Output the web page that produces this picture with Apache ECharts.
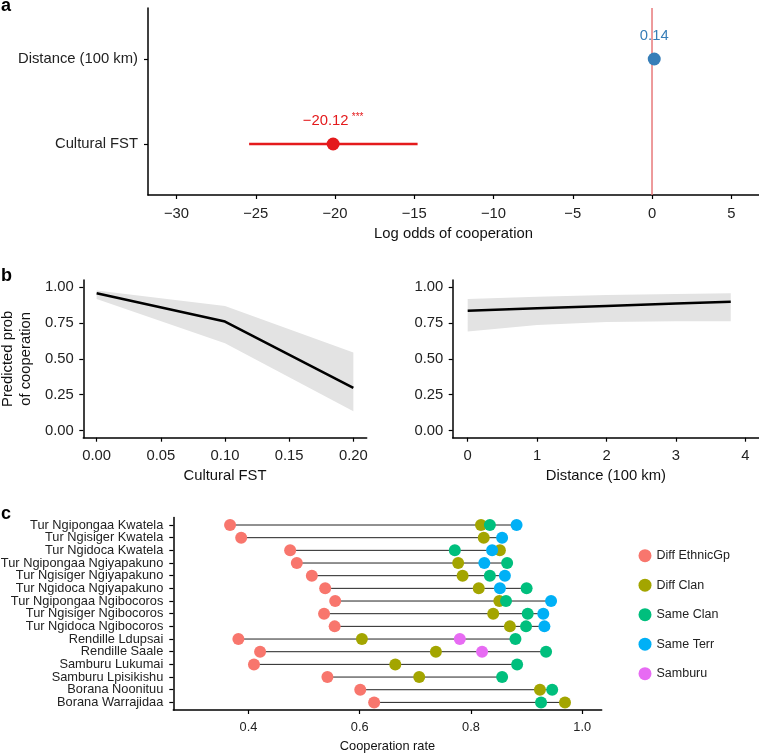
<!DOCTYPE html>
<html>
<head>
<meta charset="utf-8">
<script src="https://cdn.jsdelivr.net/npm/echarts@6/dist/echarts.min.js"></script>
<style>
html,body{margin:0;padding:0;background:#fff;}
#chart{width:759px;height:754px;}
</style>
</head>
<body>
<div id="chart"></div>
<script>
// ---------- Panel a: coefficients ----------
const coefTerms = ['Cultural FST', 'Distance (100 km)'];
const coefEst = [-20.12, 0.14];
const coefLow = [-25.42, null];
const coefHigh = [-14.79, null];
const coefText = ['\u221220.12', '0.14'];
const coefStars = ['***', ''];
const coefColors = ['#E41A1C', '#377EB8'];
const logOddsTicks = [-30, -25, -20, -15, -10, -5, 0, 5];

// ---------- Panel b: predicted probabilities ----------
const fstX = [0, 0.1, 0.2];
const fstFit = [0.958, 0.76, 0.298];
const fstLo = [0.918, 0.608, 0.135];
const fstHi = [0.976, 0.869, 0.545];
const fstTicks = [0, 0.05, 0.1, 0.15, 0.2];

const distX = [0, 1, 2, 3, 3.79];
const distFit = [0.836, 0.853, 0.869, 0.886, 0.899];
const distLo = [0.69, 0.736, 0.757, 0.762, 0.762];
const distHi = [0.918, 0.934, 0.945, 0.953, 0.958];
const distTicks = [0, 1, 2, 3, 4];
const probTicks = [0, 0.25, 0.5, 0.75, 1];

// ---------- Panel c: cooperation rates ----------
const groups = ['Tur Ngipongaa Kwatela', 'Tur Ngisiger Kwatela', 'Tur Ngidoca Kwatela',
  'Tur Ngipongaa Ngiyapakuno', 'Tur Ngisiger Ngiyapakuno', 'Tur Ngidoca Ngiyapakuno',
  'Tur Ngipongaa Ngibocoros', 'Tur Ngisiger Ngibocoros', 'Tur Ngidoca Ngibocoros',
  'Rendille Ldupsai', 'Rendille Saale', 'Samburu Lukumai', 'Samburu Lpisikishu',
  'Borana Noonituu', 'Borana Warrajidaa'];
const diffEthnicGp = [0.367, 0.387, 0.475, 0.487, 0.514, 0.538, 0.556, 0.536, 0.555, 0.382, 0.421, 0.410, 0.542, 0.601, 0.626];
const diffClan = [0.818, 0.823, 0.852, 0.777, 0.785, 0.814, 0.851, 0.840, 0.870, 0.604, 0.737, 0.664, 0.707, 0.924, 0.969];
const sameClan = [0.834, null, 0.771, 0.865, 0.834, 0.900, 0.863, 0.902, 0.899, 0.880, 0.935, 0.883, 0.856, 0.946, 0.926];
const sameTerr = [0.882, 0.856, 0.838, 0.824, 0.861, 0.852, 0.944, 0.930, 0.932, null, null, null, null, null, null];
const samburu = [null, null, null, null, null, null, null, null, null, 0.780, 0.820, null, null, null, null];
const rateTicks = [0.4, 0.6, 0.8, 1.0];
const relNames = ['Diff EthnicGp', 'Diff Clan', 'Same Clan', 'Same Terr', 'Samburu'];
const relColors = ['#F8766D', '#A3A500', '#00BF7D', '#00B0F6', '#E76BF3'];
const relValues = [diffEthnicGp, diffClan, sameClan, sameTerr, samburu];

// ---------- chart ----------
const FONT = '"Liberation Sans", Arial, Helvetica, sans-serif';
const TXT = '#222';
const FS = 14.8;   // panels a, b
const FSC = 12.8;  // panel c
const chart = echarts.init(document.getElementById('chart'), null, {renderer: 'canvas'});

function axisBase(extra) {
  return Object.assign({
    axisLine: {show: true, onZero: false, lineStyle: {color: '#000', width: 1.5}},
    splitLine: {show: false},
    nameTextStyle: {fontFamily: FONT, color: '#111', fontSize: FS},
  }, extra);
}
function ticks(vals) {
  return {show: true, length: 4, customValues: vals, lineStyle: {color: '#000', width: 1.2}};
}
function labels(vals, fmt, size, margin) {
  return {customValues: vals, formatter: fmt, fontSize: size, color: TXT, fontFamily: FONT, margin: margin,
    showMinLabel: true, showMaxLabel: true, hideOverlap: false};
}
const minus = v => String(v).replace('-', '\u2212');

function ribbon(xi, yi, xs, lo, hi) {
  return {
    type: 'custom', xAxisIndex: xi, yAxisIndex: yi, silent: true, z: 1,
    data: [[xs[0], lo[0]]],
    renderItem: function (params, api) {
      const pts = [];
      for (let i = 0; i < xs.length; i++) pts.push(api.coord([xs[i], hi[i]]));
      for (let i = xs.length - 1; i >= 0; i--) pts.push(api.coord([xs[i], lo[i]]));
      return {type: 'polygon', shape: {points: pts}, style: {fill: '#e3e3e3'}};
    }
  };
}

const rowIdx = groups.map((g, i) => i + 1);
const segData = groups.map((g, i) => {
  const vals = relValues.map(a => a[i]).filter(v => v != null);
  return [Math.min.apply(null, vals), Math.max.apply(null, vals), i + 1];
});

const series = [];
// Panel a
series.push({
  type: 'line', xAxisIndex: 0, yAxisIndex: 0, symbol: 'none', silent: true, z: 1,
  data: [[0, 0.4], [0, 2.6]], lineStyle: {color: '#e8797b', width: 1.5}
});
coefTerms.forEach((t, i) => {
  if (coefLow[i] != null) {
    series.push({
      type: 'line', xAxisIndex: 0, yAxisIndex: 0, symbol: 'none', silent: true, z: 2,
      data: [[coefLow[i], i + 1], [coefHigh[i], i + 1]], lineStyle: {color: coefColors[i], width: 2.5}
    });
  }
  series.push({
    type: 'scatter', xAxisIndex: 0, yAxisIndex: 0, symbolSize: 13, z: 3,
    itemStyle: {color: coefColors[i], opacity: 1},
    data: [[coefEst[i], i + 1]],
    label: {
      show: true, position: 'top', distance: 9,
      formatter: coefStars[i] ? '{v|' + coefText[i] + '} {s|' + coefStars[i] + '}' : '{v|' + coefText[i] + '}',
      rich: {
        v: {fontFamily: FONT, fontSize: FS, color: coefColors[i]},
        s: {fontFamily: FONT, fontSize: 10, color: coefColors[i], padding: [0, 0, 6, 0]}
      }
    }
  });
});
// Panel b
series.push(ribbon(1, 1, fstX, fstLo, fstHi));
series.push({type: 'line', xAxisIndex: 1, yAxisIndex: 1, symbol: 'none', z: 3,
  data: fstX.map((x, i) => [x, fstFit[i]]), lineStyle: {color: '#000', width: 2.5}});
series.push(ribbon(2, 2, distX, distLo, distHi));
series.push({type: 'line', xAxisIndex: 2, yAxisIndex: 2, symbol: 'none', z: 3,
  data: distX.map((x, i) => [x, distFit[i]]), lineStyle: {color: '#000', width: 2.5}});
// Panel c
series.push({
  type: 'custom', xAxisIndex: 3, yAxisIndex: 3, silent: true, z: 1,
  encode: {x: [0, 1], y: 2}, data: segData,
  renderItem: function (params, api) {
    const p1 = api.coord([api.value(0), api.value(2)]);
    const p2 = api.coord([api.value(1), api.value(2)]);
    return {type: 'line', shape: {x1: p1[0], y1: p1[1], x2: p2[0], y2: p2[1]}, style: {stroke: '#222', lineWidth: 1}};
  }
});
relNames.forEach((n, k) => {
  series.push({
    name: n, type: 'scatter', xAxisIndex: 3, yAxisIndex: 3, symbolSize: 12, z: 3 + k,
    itemStyle: {color: relColors[k], opacity: 1},
    data: relValues[k].map((v, i) => v == null ? null : [v, rowIdx[i]]).filter(d => d)
  });
});

const ROWH = 192.6 / 15.2;   // row spacing of panel c
const option = {
  animation: false,
  backgroundColor: '#fff',
  textStyle: {fontFamily: FONT},
  grid: [
    {left: 148, top: 8, width: 611, height: 187, outerBoundsMode: 'none', containLabel: false},
    {left: 83.3, top: 280, width: 283.4, height: 157.7, outerBoundsMode: 'none', containLabel: false},
    {left: 452.7, top: 280, width: 306.3, height: 157.7, outerBoundsMode: 'none', containLabel: false},
    {left: 173.3, top: 517.4, width: 428.4, height: 192.6, outerBoundsMode: 'none', containLabel: false},
    // label-only grid for panel c row names (category bands aligned with rows)
    {left: 173.3, top: 517.4 + 0.1 * ROWH, width: 428.4, height: 15 * ROWH, outerBoundsMode: 'none', containLabel: false}
  ],
  xAxis: [
    axisBase({gridIndex: 0, type: 'value', min: -31.8, max: 6.75,
      name: 'Log odds of cooperation', nameLocation: 'middle', nameGap: 31,
      axisTick: ticks(logOddsTicks),
      axisLabel: labels(logOddsTicks, minus, FS, 11)}),
    axisBase({gridIndex: 1, type: 'value', min: -0.0104, max: 0.2104,
      name: 'Cultural FST', nameLocation: 'middle', nameGap: 31,
      axisTick: ticks(fstTicks),
      axisLabel: labels(fstTicks, v => v.toFixed(2), FS, 11)}),
    axisBase({gridIndex: 2, type: 'value', min: -0.216, max: 4.197,
      name: 'Distance (100 km)', nameLocation: 'middle', nameGap: 31,
      axisTick: ticks(distTicks),
      axisLabel: labels(distTicks, v => String(v), FS, 11)}),
    axisBase({gridIndex: 3, type: 'value', min: 0.265, max: 1.035,
      name: 'Cooperation rate', nameLocation: 'middle', nameGap: 30,
      nameTextStyle: {fontFamily: FONT, color: '#111', fontSize: FSC},
      axisTick: ticks(rateTicks),
      axisLabel: labels(rateTicks, v => v.toFixed(1), FSC, 11)}),
    {gridIndex: 4, type: 'value', min: 0, max: 1, show: false}
  ],
  yAxis: [
    axisBase({gridIndex: 0, type: 'value', min: 0.4, max: 2.6,
      axisTick: ticks([1, 2]),
      axisLabel: labels([1, 2], v => coefTerms[Math.round(v) - 1], FS, 10)}),
    axisBase({gridIndex: 1, type: 'value', min: -0.05, max: 1.05,
      name: 'Predicted prob\nof cooperation', nameLocation: 'middle', nameGap: 49,
      nameTextStyle: {fontFamily: FONT, color: '#111', fontSize: FS, lineHeight: 17.5},
      axisTick: ticks(probTicks),
      axisLabel: labels(probTicks, v => v.toFixed(2), FS, 9.5)}),
    axisBase({gridIndex: 2, type: 'value', min: -0.05, max: 1.05,
      axisTick: ticks(probTicks),
      axisLabel: labels(probTicks, v => v.toFixed(2), FS, 9.5)}),
    axisBase({gridIndex: 3, type: 'value', min: 0.4, max: 15.6, inverse: true,
      axisTick: ticks(rowIdx),
      axisLabel: {show: false}}),
    {gridIndex: 4, type: 'category', data: groups, inverse: true,
      axisLine: {show: false}, axisTick: {show: false}, splitLine: {show: false},
      axisLabel: {interval: 0, fontSize: FSC, color: TXT, fontFamily: FONT, margin: 10}}
  ],
  legend: {
    orient: 'vertical', left: 638.5, top: 549.2, padding: 0, itemWidth: 13, itemHeight: 13, itemGap: 16.5,
    icon: 'circle', data: relNames,
    textStyle: {fontFamily: FONT, fontSize: 12.5, color: TXT, lineHeight: 13}
  },
  graphic: [
    {type: 'text', left: 1, top: -3, style: {text: 'a', font: 'bold 18px ' + FONT, fill: '#000'}},
    {type: 'text', left: 1, top: 267, style: {text: 'b', font: 'bold 18px ' + FONT, fill: '#000'}},
    {type: 'text', left: 1, top: 505, style: {text: 'c', font: 'bold 18px ' + FONT, fill: '#000'}}
  ],
  series: series
};
chart.setOption(option);
</script>
</body>
</html>
